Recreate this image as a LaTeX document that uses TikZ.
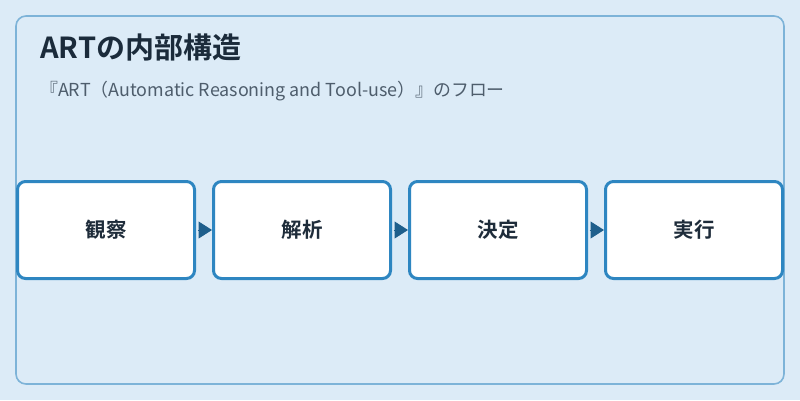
\documentclass[tikz,border=0pt]{standalone}
\usepackage{fontspec}
\setmainfont{Noto Sans CJK JP}[BoldFont={Noto Sans CJK JP Bold}]
\usetikzlibrary{arrows.meta}
\definecolor{bgblue}{HTML}{DCEBF7}
\definecolor{framecol}{HTML}{7DB3D8}
\definecolor{boxline}{HTML}{2E86C1}
\definecolor{tipcol}{HTML}{1F5F8C}
\definecolor{titlecol}{HTML}{1B2B3B}
\definecolor{subcol}{HTML}{4E5D6C}
\definecolor{labelcol}{HTML}{1E2C3A}
\tikzset{
  stepbox/.style={draw=boxline, fill=white, line width=3pt, rounded corners=8pt,
    minimum width=177pt, minimum height=97pt, inner sep=0pt,
    font=\fontsize{20.5}{24}\selectfont\bfseries, text=labelcol},
  flowarrow/.style={draw=tipcol, line width=1pt, shorten <=1.5pt,
    -{Triangle[length=13.5pt 0, width=17pt 0]}},
  frame/.style={draw=framecol, line width=1.6pt, rounded corners=10pt, fill=bgblue}
}
\begin{document}
\begin{tikzpicture}[x=1pt,y=-1pt]
\fill[bgblue] (0,0) rectangle (800,400);
\useasboundingbox (0,0) rectangle (800,400);
\draw[frame] (16,16) rectangle (784,384);
\node[anchor=base west, inner sep=0pt, text=titlecol, font=\fontsize{29}{34}\selectfont\bfseries] (title) at (40,58) {ARTの内部構造};
\node[anchor=base west, inner sep=0pt, text=subcol, font=\fontsize{17.9}{21}\selectfont] (subtitle) at (40,96) {『ART（Automatic Reasoning and Tool-use）』のフロー};
\node[stepbox] (b1) at (106,230) {観察};
\node[stepbox] (b2) at (302,230) {解析};
\node[stepbox] (b3) at (498,230) {決定};
\node[stepbox] (b4) at (694,230) {実行};
\draw[flowarrow] (b1) -- (b2);
\draw[flowarrow] (b2) -- (b3);
\draw[flowarrow] (b3) -- (b4);
\end{tikzpicture}
\end{document}
